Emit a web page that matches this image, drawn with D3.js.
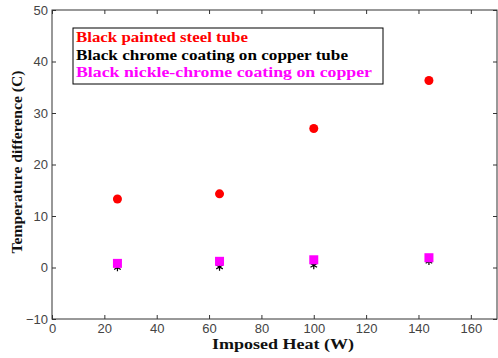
<!DOCTYPE html>
<html>
<head>
<meta charset="utf-8">
<script src="https://cdn.jsdelivr.net/npm/d3@7"></script>
<style>
  html, body { margin: 0; padding: 0; background: #fff; }
  svg { display: block; }
  .serif { font-family: 'Liberation Serif', 'Times New Roman', serif; font-weight: bold; }
  .tick text { font-family: 'Liberation Sans', 'DejaVu Sans', sans-serif; }
</style>
</head>
<body>
<div id="viz"></div>
<script>
// Datos
const heat = [25, 64, 100, 144];
const steelTube = [13.3, 14.3, 27.0, 36.3];
const chromeCopper = [0.0, 0.1, 0.4, 1.2];
const nickleChrome = [0.8, 1.2, 1.5, 1.9];
const xTicks = [0, 20, 40, 60, 80, 100, 120, 140, 160];
const yTicks = [-10, 0, 10, 20, 30, 40, 50];
const legendLabels = ['Black painted steel tube', 'Black chrome coating on copper tube', 'Black nickle-chrome coating on copper'];
const legendColors = ['#ff0000', '#000000', '#ff00ff'];

const W = 498, H = 358;
const margin = {top: 10, right: 1, bottom: 39, left: 52};
const width = W - margin.left - margin.right,
      height = H - margin.top - margin.bottom;

const svg = d3.select('#viz').append('svg')
    .attr('width', W).attr('height', H)
  .append('g')
    .attr('transform', 'translate(' + margin.left + ',' + margin.top + ')');

const x = d3.scaleLinear().domain([0, 170]).range([0, width]);
const y = d3.scaleLinear().domain([-10, 50]).range([height, 0]);

// Ejes (ticks hacia dentro)
function styleAxis(g) {
    g.select('.domain').remove();
    g.selectAll('line').attr('stroke', '#333');
    g.selectAll('text')
        .attr('font-family', null)
        .attr('font-size', 13)
        .attr('fill', '#444');
}

svg.append('g')
    .attr('transform', 'translate(0,' + height + ')')
    .call(d3.axisBottom(x).tickValues(xTicks).tickSize(-4).tickPadding(5))
    .call(styleAxis);
svg.append('g')
    .call(d3.axisTop(x).tickValues(xTicks).tickSize(-4).tickFormat(''))
    .call(styleAxis);
svg.append('g')
    .call(d3.axisLeft(y).tickValues(yTicks).tickSize(-4).tickPadding(4))
    .call(styleAxis);
svg.append('g')
    .attr('transform', 'translate(' + width + ',0)')
    .call(d3.axisRight(y).tickValues(yTicks).tickSize(-4).tickFormat(''))
    .call(styleAxis);

svg.append('rect')
    .attr('width', width).attr('height', height)
    .attr('fill', 'none').attr('stroke', '#333').attr('stroke-width', 1);

// Marcadores
const star = d3.symbol().type(d3.symbolAsterisk).size(40);
svg.append('g').selectAll('path')
    .data(heat.map((h, i) => [h, chromeCopper[i]]))
    .enter().append('path')
    .attr('d', star)
    .attr('transform', d => 'translate(' + x(d[0]) + ',' + y(d[1]) + ')')
    .attr('stroke', '#000').attr('stroke-width', 1.2).attr('fill', 'none');

svg.append('g').selectAll('rect')
    .data(heat.map((h, i) => [h, nickleChrome[i]]))
    .enter().append('rect')
    .attr('x', d => x(d[0]) - 4.5)
    .attr('y', d => y(d[1]) - 4.5)
    .attr('width', 9).attr('height', 9)
    .attr('fill', '#ff00ff');

svg.append('g').selectAll('circle')
    .data(heat.map((h, i) => [h, steelTube[i]]))
    .enter().append('circle')
    .attr('cx', d => x(d[0]))
    .attr('cy', d => y(d[1]))
    .attr('r', 4.5)
    .attr('fill', '#ff0000');

// Leyenda
const legend = svg.append('g').attr('transform', 'translate(21,18)');
legend.append('rect')
    .attr('width', 310).attr('height', 56)
    .attr('fill', '#fff').attr('stroke', '#000').attr('stroke-width', 1);
legend.selectAll('text')
    .data(legendLabels)
    .enter().append('text')
    .attr('class', 'serif')
    .attr('x', 3)
    .attr('y', (d, i) => 14 + i * 17.5)
    .attr('fill', (d, i) => legendColors[i])
    .attr('font-size', 15)
    .attr('textLength', (d, i) => [172, 272, 296][i])
    .attr('lengthAdjust', 'spacingAndGlyphs')
    .text(d => d);

// Títulos de ejes
svg.append('text')
    .attr('class', 'serif')
    .attr('x', width / 2 + 8.5)
    .attr('y', height + 30)
    .attr('text-anchor', 'middle')
    .attr('font-size', 15)
    .attr('fill', '#111')
    .attr('textLength', 142)
    .attr('lengthAdjust', 'spacingAndGlyphs')
    .text('Imposed Heat  (W)');

svg.append('text')
    .attr('class', 'serif')
    .attr('transform', 'translate(-30,152) rotate(-90)')
    .attr('text-anchor', 'middle')
    .attr('font-size', 15)
    .attr('fill', '#111')
    .attr('textLength', 183)
    .attr('lengthAdjust', 'spacingAndGlyphs')
    .text('Temperature difference (C)');
</script>
</body>
</html>
